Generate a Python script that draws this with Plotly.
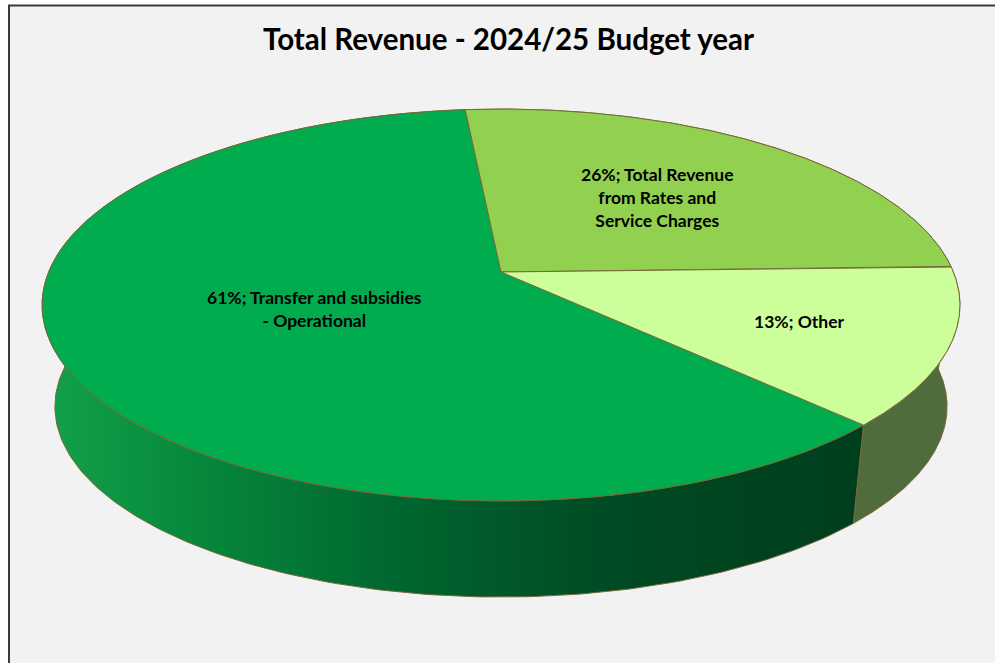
import numpy as np
import plotly.graph_objects as go

# ---- data -------------------------------------------------------------
categories = [
    "Transfer and subsidies - Operational",
    "Total Revenue from Rates and Service Charges",
    "Other",
]
shares = [61, 26, 13]  # percent of total revenue
label_lines = [
    ["Transfer and subsidies", "- Operational"],
    ["Total Revenue", "from Rates and", "Service Charges"],
    ["Other"],
]
title_text = "Total Revenue - 2024/25 Budget year"

# ---- styling ----------------------------------------------------------
top_colors = ["#00AC4E", "#92D050", "#CCFF99"]
side_colors = ["#00883A", "#5E8A33", "#506B3C"]
side_gradient = [  # front wall of the large slice darkens left to right
    [0.00, "#14A24B"],
    [0.17, "#078B3D"],
    [0.42, "#006830"],
    [0.68, "#004C24"],
    [0.88, "#00421F"],
    [1.00, "#003F1E"],
]
edge_color = "#76693A"
label_radius = [0.44, 0.56, 0.68]  # where each label sits, as a fraction of the radius
first_slice_angle = 135.1  # degrees clockwise from 12 o'clock

FONT = "Lato, 'Open Sans', sans-serif"
W, H = 995, 663

# ---- tilted-disc projection (screen pixels) ---------------------------
CX, CY = 501.0, 272.0      # centre of the top face
A, B, K = 452.4, 190.4, 0.1684  # horizontal/vertical scale and perspective
S_BOT, DY_BOT = 0.972, 102.5    # bottom face: shrink and drop


def project(theta_deg, r=1.0, bottom=False):
    t = np.radians(theta_deg)
    u = r * np.sin(t)
    v = r * np.cos(t)
    d = 1.0 + K * v
    s = S_BOT if bottom else 1.0
    y0 = CY + (DY_BOT if bottom else 0.0)
    return CX + s * A * u / d, y0 - s * B * v / d


def arc(a0, a1, bottom=False, n=240):
    th = np.linspace(a0, a1, n)
    return project(th, 1.0, bottom)


# slice angles from the shares
spans = [360.0 * s / sum(shares) for s in shares]
starts = [first_slice_angle + sum(spans[:i]) for i in range(len(spans))]
ends = [a + s for a, s in zip(starts, spans)]

fig = go.Figure()

# side walls (drawn first, top faces cover the hidden parts)
for i in [1, 0, 2]:
    xt, yt = arc(starts[i], ends[i])
    xb, yb = arc(ends[i], starts[i], bottom=True)
    xs = np.concatenate([xt, xb, xt[:1]])
    ys = np.concatenate([yt, yb, yt[:1]])
    kw = dict(fillcolor=side_colors[i])
    if i == 0:
        kw = dict(fillgradient=dict(type="horizontal", colorscale=side_gradient,
                                    start=40, stop=860))
    fig.add_trace(go.Scatter(
        x=xs, y=ys, mode="lines", fill="toself",
        line=dict(color=edge_color, width=1),
        hoverinfo="skip", showlegend=False, **kw))

# top faces
for i in range(len(shares)):
    xa, ya = arc(starts[i], ends[i])
    xs = np.concatenate([[CX], xa, [CX]])
    ys = np.concatenate([[CY], ya, [CY]])
    fig.add_trace(go.Scatter(
        x=xs, y=ys, mode="lines", fill="toself", fillcolor=top_colors[i],
        line=dict(color=edge_color, width=1),
        name=categories[i], hoverinfo="skip", showlegend=False))

# data labels
for i in range(len(shares)):
    mid = (starts[i] + ends[i]) / 2.0
    lx, ly = project(mid, label_radius[i])
    text = f"{shares[i]}%; " + "<br>".join(label_lines[i])
    fig.add_annotation(
        x=float(lx), y=float(ly), text=text, showarrow=False,
        xanchor="center", yanchor="middle", align="center",
        font=dict(family=FONT, size=17.5, color="#000000", weight="bold"),
    )

# chart title
fig.add_annotation(
    x=508, y=38, text=title_text, showarrow=False,
    xanchor="center", yanchor="middle",
    font=dict(family=FONT, size=29.5, color="#000000", weight="bold"),
)

# chart frame
fig.add_shape(type="rect", x0=9, x1=1010, y0=5.5, y1=700,
              fillcolor="#F2F2F2", line=dict(color="#3A3A3A", width=2),
              layer="below")

fig.update_layout(
    width=W, height=H,
    margin=dict(l=0, r=0, t=0, b=0),
    paper_bgcolor="#FFFFFF", plot_bgcolor="#FFFFFF",
    xaxis=dict(range=[0, W], visible=False, fixedrange=True),
    yaxis=dict(range=[H, 0], visible=False, fixedrange=True),
    showlegend=False,
)

fig.write_html("out.html")
